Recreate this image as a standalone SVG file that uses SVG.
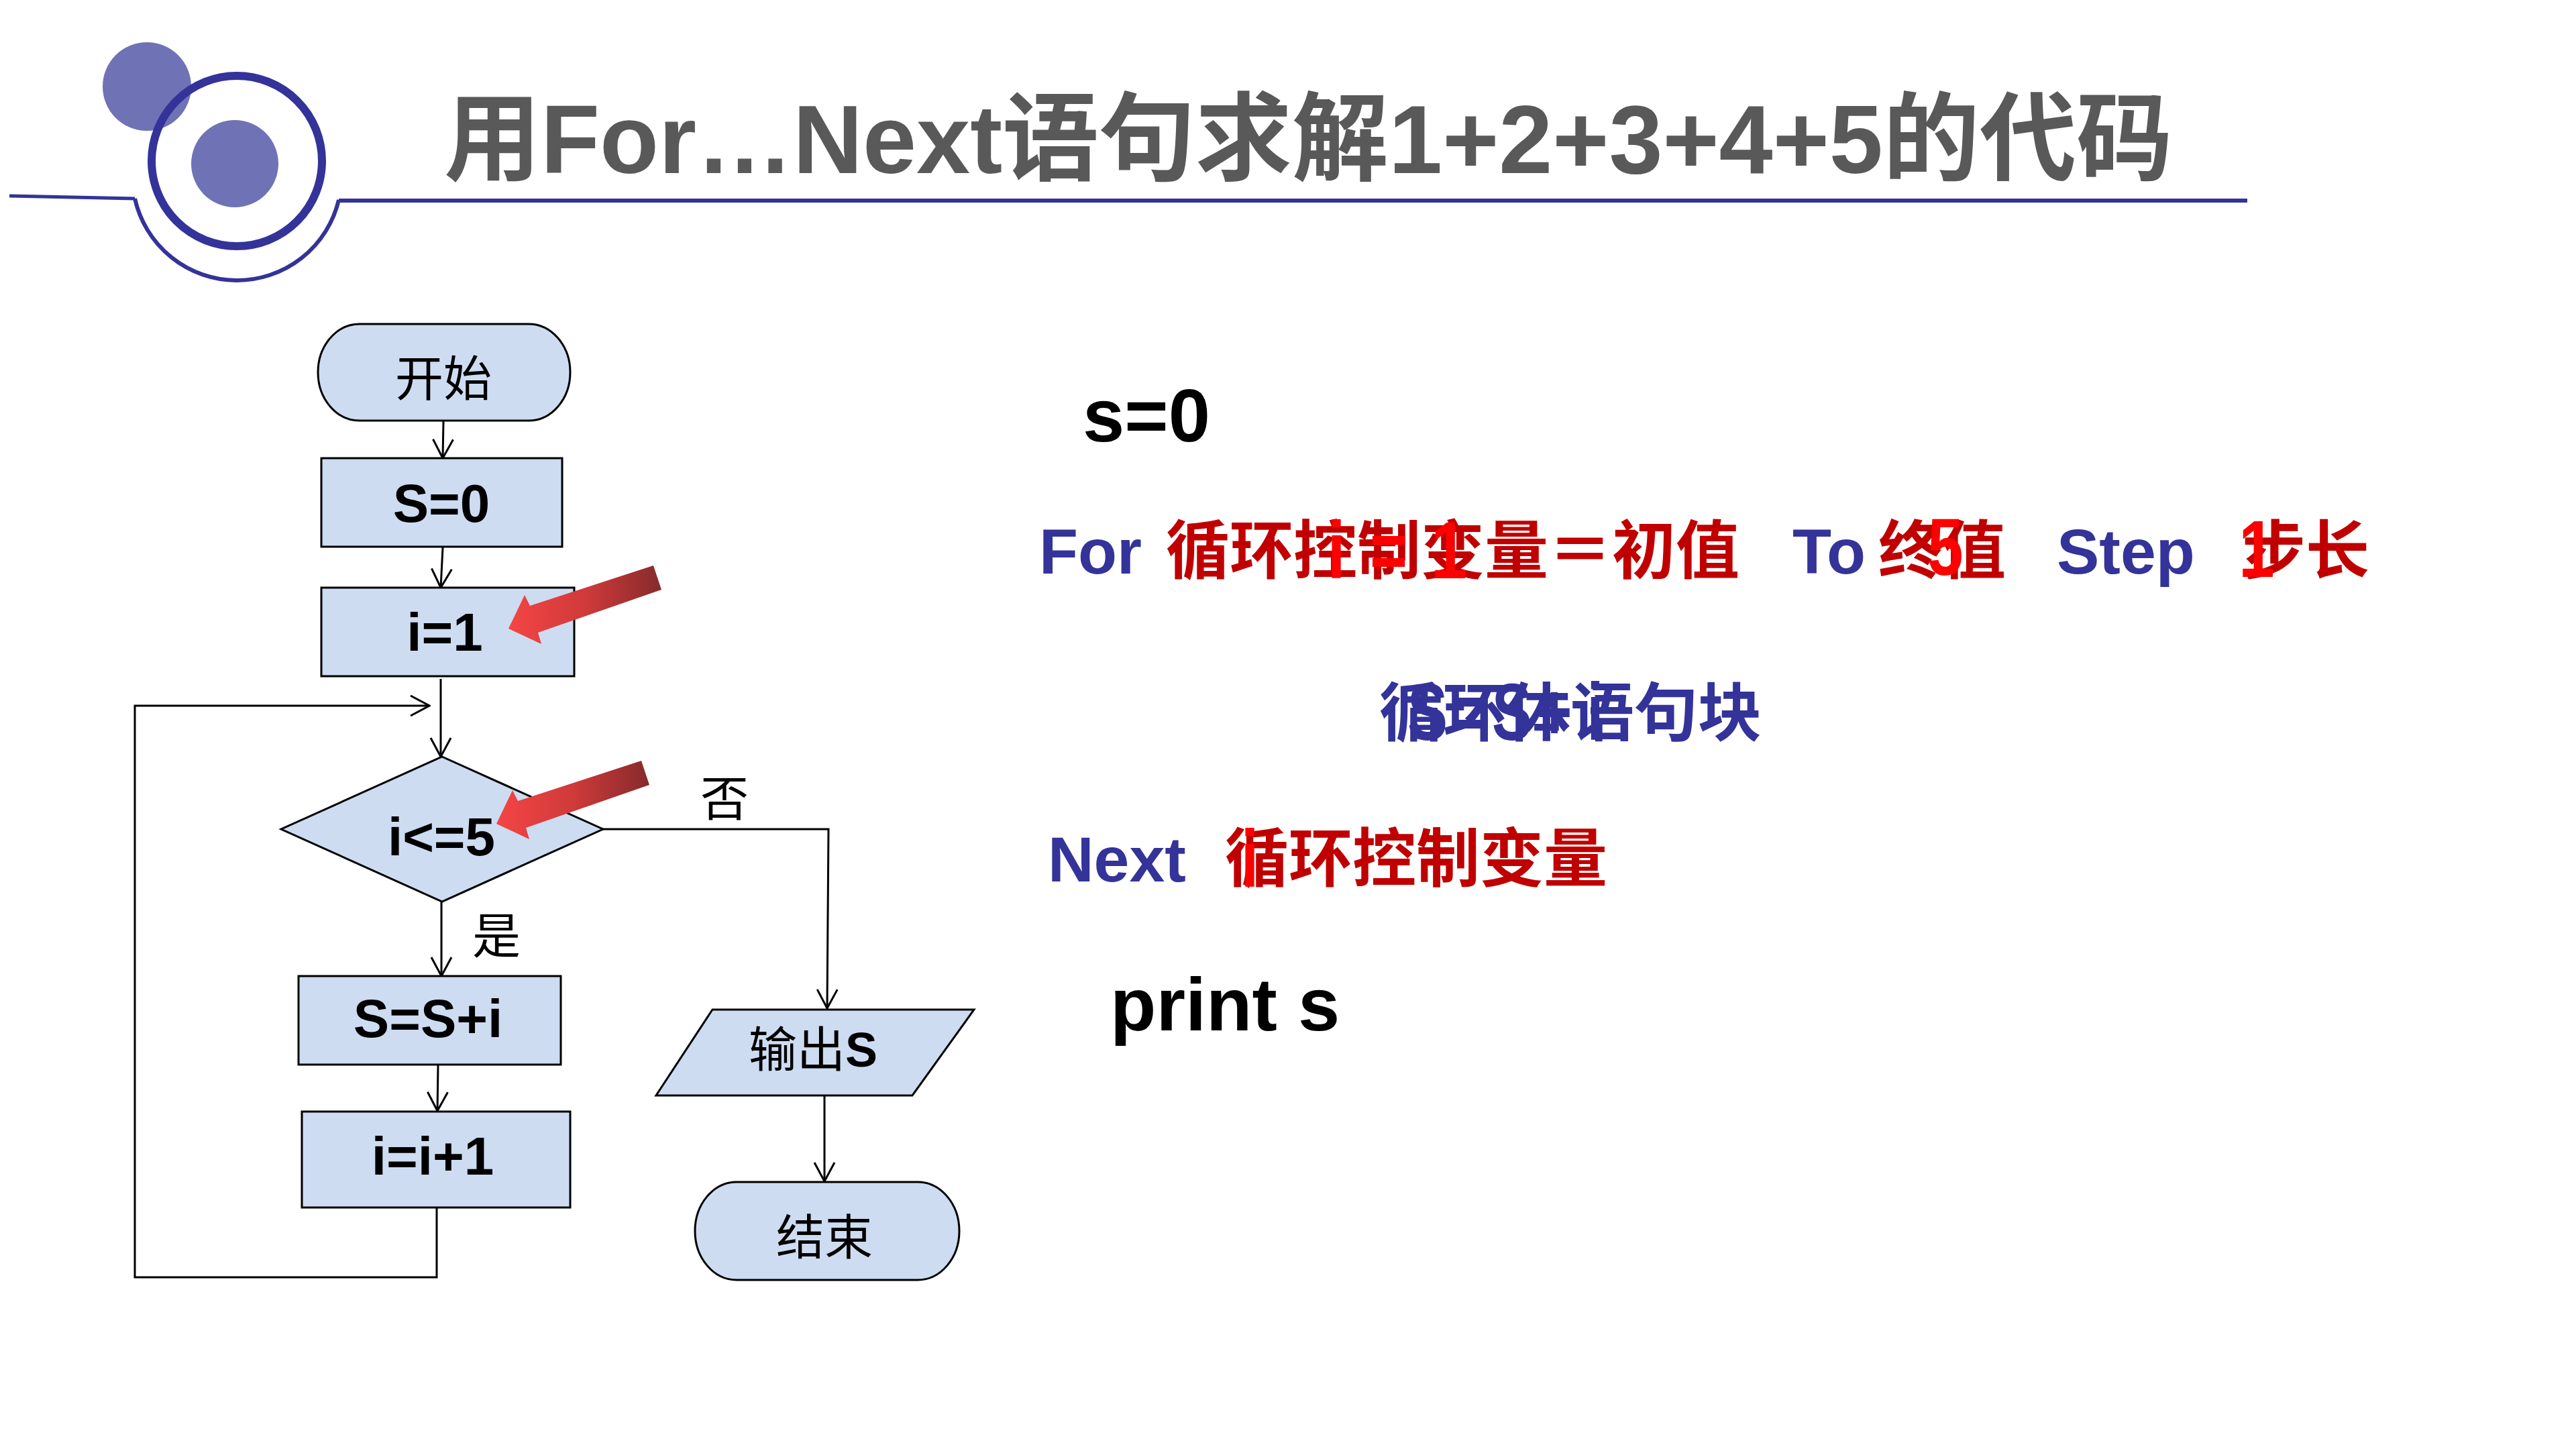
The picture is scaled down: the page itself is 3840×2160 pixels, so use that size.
<svg xmlns="http://www.w3.org/2000/svg" width="3840" height="2160" viewBox="0 0 3840 2160">
<style>
.box{fill:#cddcf1;stroke:#000;stroke-width:3}
.conn{fill:none;stroke:#000;stroke-width:3}
.deco{fill:none;stroke:#333399}
.lbl{font-family:"Noto Sans CJK SC","Liberation Sans",sans-serif;font-size:72px;fill:#000;text-anchor:middle}
.ftx{font-family:"Liberation Sans","Noto Sans CJK SC",sans-serif;font-weight:bold;font-size:80px;fill:#000;text-anchor:middle}
.code{font-family:"Liberation Sans","Noto Sans CJK SC",sans-serif;font-weight:bold;font-size:95px}
.big{font-size:112px;fill:#000}
.blue{fill:#333399}
.dred{fill:#c00000}
.ov{font-family:"Liberation Sans","Noto Sans CJK SC",sans-serif;font-weight:bold;font-size:120px;text-anchor:middle}
</style>
<defs>
<marker id="ah" markerUnits="userSpaceOnUse" markerWidth="32" markerHeight="34" viewBox="0 0 32 34" refX="30" refY="17" orient="auto">
<path d="M2,2 L30,17 L2,32" fill="none" stroke="#000" stroke-width="3"/>
</marker>
<linearGradient id="redgrad" x1="0" y1="0" x2="1" y2="0">
<stop offset="0" stop-color="#f44545"/>
<stop offset="0.5" stop-color="#d03a3a"/>
<stop offset="1" stop-color="#862a2c"/>
</linearGradient>
</defs>
<rect width="3840" height="2160" fill="#fff"/>

<g id="title-decoration">
<circle cx="219" cy="129" r="66" fill="#6f72b5"/>
<circle cx="353" cy="240" r="127" class="deco" stroke-width="12"/>
<circle cx="350" cy="244" r="65" fill="#6f72b5"/>
<line x1="14" y1="292" x2="201" y2="296" class="deco" stroke-width="5"/>
<path d="M201,296 A156,156 0 0 0 505,298" class="deco" stroke-width="6"/>
<line x1="505" y1="299" x2="3350" y2="299" class="deco" stroke-width="6"/>
</g>
<text id="title" x="662" y="258" font-family="'Liberation Sans','Noto Sans CJK SC',sans-serif" font-weight="bold" font-size="144" fill="#595959">用For…Next语句求解1+2+3+4+5的代码</text>

<g id="connectors">
<line x1="661" y1="628" x2="660" y2="683" class="conn" marker-end="url(#ah)"/>
<line x1="660" y1="816" x2="657" y2="876" class="conn" marker-end="url(#ah)"/>
<line x1="657" y1="1012" x2="657" y2="1128" class="conn" marker-end="url(#ah)"/>
<polyline points="651,1800 651,1904 201,1904 201,1052 640,1052" class="conn" marker-end="url(#ah)"/>
<line x1="658" y1="1344" x2="658" y2="1455" class="conn" marker-end="url(#ah)"/>
<polyline points="899,1236 1235,1236 1233,1503" class="conn" marker-end="url(#ah)"/>
<line x1="653" y1="1588" x2="652" y2="1656" class="conn" marker-end="url(#ah)"/>
<line x1="1229" y1="1633" x2="1229" y2="1761" class="conn" marker-end="url(#ah)"/>
</g>

<g id="node-start">
<rect x="474" y="483" width="376" height="144" rx="62" ry="72" class="box"/>
<text x="661" y="590" class="lbl">开始</text>
</g>
<g id="node-s0">
<rect x="479" y="683" width="359" height="132" class="box"/>
<text x="658" y="778" class="ftx">S=0</text>
</g>
<g id="node-i1">
<rect x="479" y="876" width="377" height="132" class="box"/>
<text x="663" y="970" class="ftx">i=1</text>
</g>
<g id="node-cond">
<polygon points="659,1128 899,1236 659,1344 419,1236" class="box"/>
<text x="658" y="1275" class="ftx">i&lt;=5</text>
</g>
<g id="label-yes"><text x="740" y="1421" class="lbl">是</text></g>
<g id="label-no"><text x="1080" y="1216" class="lbl">否</text></g>
<g id="node-sum">
<rect x="445" y="1455" width="391" height="132" class="box"/>
<text x="638" y="1546" class="ftx">S=S+i</text>
</g>
<g id="node-inc">
<rect x="450" y="1657" width="400" height="143" class="box"/>
<text x="645" y="1751" class="ftx">i=i+1</text>
</g>
<g id="node-output">
<polygon points="1062,1505 1452,1505 1360,1633 978,1633" class="box"/>
<text x="1212" y="1590" class="lbl">输出<tspan font-family="'Liberation Sans',sans-serif" font-weight="bold">S</tspan></text>
</g>
<g id="node-end">
<rect x="1036" y="1762" width="394" height="146" rx="62" ry="73" class="box"/>
<text x="1229" y="1870" class="lbl">结束</text>
</g>

<g id="pointer-arrows">
<polygon id="arrow1" points="758,937 782,887 790,903 974,843 986,879 802,943 807,960" fill="url(#redgrad)"/>
<polygon id="arrow2" transform="translate(-18,291)" points="758,937 782,887 790,903 974,843 986,879 802,943 807,960" fill="url(#redgrad)"/>
</g>

<g id="code">
<text x="1614" y="658" class="code big">s=0</text>

<text x="1549" y="855" class="code blue">For</text>
<text x="1738" y="855" class="code dred">循环控制变量＝初值</text>
<text x="2672" y="855" class="code blue">To</text>
<text x="2800" y="855" class="code dred">终值</text>
<text x="3066" y="855" class="code blue">Step</text>
<text x="3342" y="855" class="code dred">步长</text>
<g fill="#ff0000" class="ov">
<text transform="translate(1992 862) scale(0.8 1)">i</text>
<text transform="translate(2070 862) scale(0.8 1)">=</text>
<text transform="translate(2160 862) scale(0.8 1)">1</text>
<text transform="translate(2900 857) scale(0.8 1)">5</text>
<text transform="translate(3364 860) scale(0.8 1)">1</text>
</g>

<text x="2056" y="1097" class="code blue">循环体语句块</text>
<g fill="#333399" class="ov">
<text transform="translate(2128 1103) scale(0.75 1)">S</text>
<text transform="translate(2191 1103) scale(0.75 1)">=</text>
<text transform="translate(2254 1103) scale(0.75 1)">S</text>
<text transform="translate(2317 1103) scale(0.75 1)">+</text>
<text transform="translate(2378 1103) scale(0.75 1)">i</text>
</g>

<text x="1562" y="1314" class="code blue">Next</text>
<text x="1826" y="1314" class="code dred">循环控制变量</text>
<text transform="translate(1863 1322) scale(0.8 1)" class="ov" fill="#ff0000">i</text>

<text x="1655" y="1536" class="code big">print s</text>
</g>
</svg>
